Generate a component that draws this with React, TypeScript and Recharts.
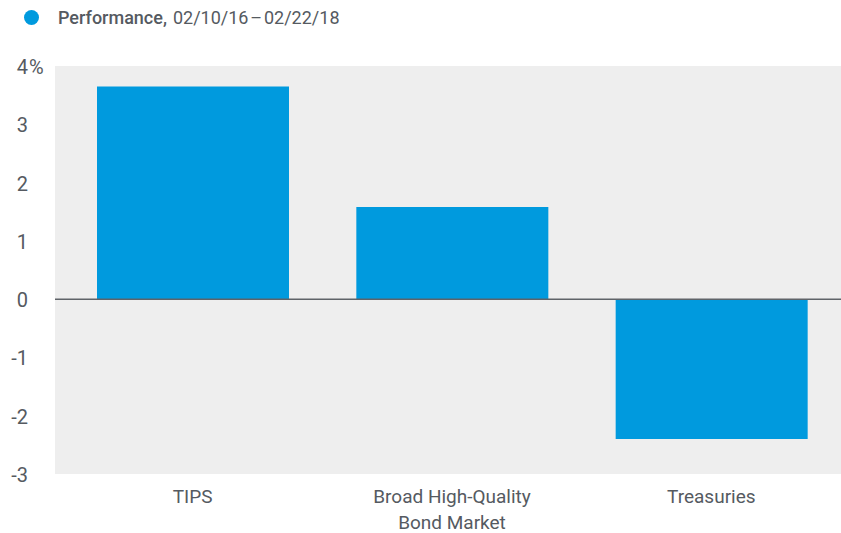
import React from "react";
import {
  BarChart,
  Bar,
  XAxis,
  YAxis,
  CartesianGrid,
  ReferenceLine
} from "recharts";

const categories: string[] = ["TIPS", "Broad High-Quality\nBond Market", "Treasuries"];
const performance: number[] = [3.65, 1.58, -2.4];
const yTicks: number[] = [-3, -2, -1, 0, 1, 2, 3, 4];

const seriesName = "Performance,";
const period = "02/10/16\u200a\u2013\u200a02/22/18";

const data = categories.map((name, i) => ({ name, value: performance[i] }));

const textColor = "#555a61";
const barColor = "#009ade";
const font = "Roboto, 'Liberation Sans', sans-serif";

const YTick = (props: any) => {
  const { y, payload } = props;
  const v = payload.value;
  return (
    <g>
      <text x={28} y={y} dy={8} textAnchor="end" fill={textColor} fontSize={20} fontFamily={font}>
        {v}
      </text>
      {v === 4 && (
        <text x={29} y={y} dy={8} textAnchor="start" fill={textColor} fontSize={20} fontFamily={font}>
          %
        </text>
      )}
    </g>
  );
};

const XTick = (props: any) => {
  const { x, y, payload } = props;
  const lines = String(payload.value).split("\n");
  return (
    <text x={x} y={y} textAnchor="middle" fill={textColor} fontSize={19} fontFamily={font}>
      {lines.map((l, i) => (
        <tspan key={i} x={x} dy={i === 0 ? 21 : 26}>
          {l}
        </tspan>
      ))}
    </text>
  );
};

const App: React.FC = () => {
  return (
    <div style={{ position: "absolute", left: 0, top: 0, width: 841, height: 533, background: "#fff" }}>
      <div
        style={{
          position: "absolute",
          left: 24,
          top: 7,
          display: "flex",
          alignItems: "center",
          fontFamily: font,
          fontSize: 18,
          color: textColor,
          whiteSpace: "nowrap"
        }}
      >
        <span
          style={{
            display: "inline-block",
            width: 15,
            height: 15,
            borderRadius: "50%",
            background: barColor,
            marginRight: 19
          }}
        />
        <span style={{ fontWeight: 500 }}>{seriesName}</span>
        <span style={{ marginLeft: 6 }}>{period}</span>
      </div>
      <BarChart
        width={841}
        height={533}
        data={data}
        margin={{ top: 66, right: 0, bottom: 0, left: 0 }}
        barSize={192}
      >
        <CartesianGrid fill="#eeeeee" stroke="none" vertical={false} horizontal={false} />
        <XAxis
          dataKey="name"
          axisLine={false}
          tickLine={false}
          interval={0}
          height={59}
          padding={{ left: 8, right: 0 }}
          tick={<XTick />}
        />
        <YAxis
          domain={[-3, 4]}
          ticks={yTicks}
          width={55}
          axisLine={false}
          tickLine={false}
          interval={0}
          tick={<YTick />}
        />
        <Bar dataKey="value" fill={barColor} isAnimationActive={false} />
        <ReferenceLine y={0} stroke="#5f6368" strokeWidth={1.5} />
      </BarChart>
    </div>
  );
};

export default App;
